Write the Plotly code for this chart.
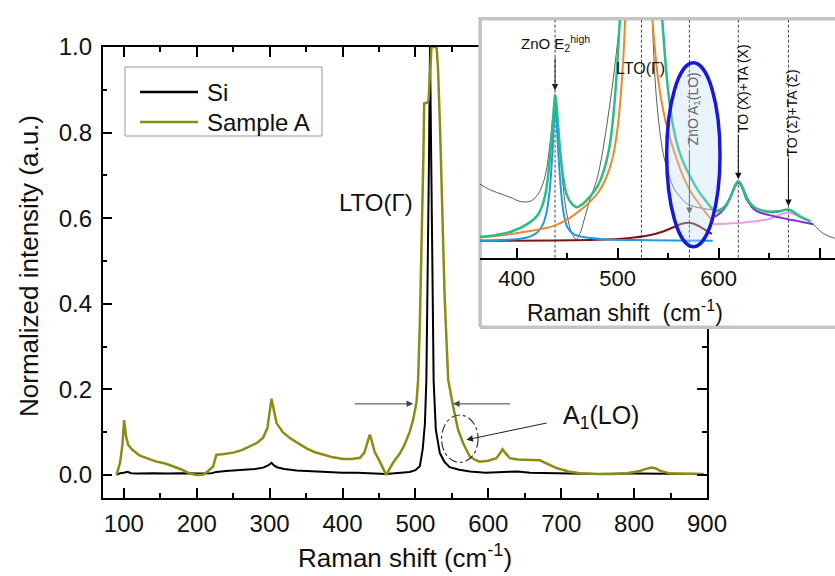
import plotly.graph_objects as go

W, H = 835, 576
FONT = "Liberation Sans, Arial, sans-serif"

# ---------------- main spectra ----------------
si_x = [90, 95, 100, 105, 110, 120, 140, 160, 180, 200, 220, 227, 240, 260, 280, 291, 298, 302.6, 306, 310,
        320, 337, 360, 380, 400, 420, 440, 460, 480, 492, 500, 506, 510, 513, 515, 517, 518.5, 520, 521.5,
        523, 525, 528, 533.5, 540, 547, 560, 575, 596, 620, 640, 657, 680, 700, 750, 800, 850, 895]
si_y = [0.0, 0.004, 0.005, 0.007, 0.004, 0.003, 0.004, 0.003, 0.004, 0.003, 0.004, 0.007, 0.009, 0.011,
        0.014, 0.017, 0.022, 0.028, 0.022, 0.018, 0.014, 0.010, 0.008, 0.006, 0.005, 0.005, 0.004, 0.002,
        0.005, 0.007, 0.011, 0.020, 0.060, 0.120, 0.220, 0.450, 0.720, 1.000, 0.720, 0.420, 0.220, 0.105,
        0.051, 0.030, 0.018, 0.012, 0.008, 0.005, 0.007, 0.008, 0.005, 0.004, 0.003, 0.002, 0.003, 0.002,
        0.002]

sa_x = [90, 95, 98, 100.4, 103, 106, 112, 122, 135, 145, 158, 168, 180, 190.5, 200, 209, 215, 222.5, 227,
        235, 250, 262, 273, 283, 291, 297, 302.6, 306, 309.5, 318, 327.7, 340, 350.6, 362, 373, 387, 401,
        412, 424, 430, 434, 437.4, 440, 444, 450, 455, 460, 465, 470, 478.6, 485, 492, 496.8, 501.5, 503.7,
        506, 509, 511, 512, 516, 518, 520, 522, 529, 531, 534, 537, 540, 543, 545, 551.7, 558.6, 565.5,
        574.6, 582, 588, 600, 611, 616, 619.5, 623, 629.5, 640, 647.7, 660, 670.6, 680, 693.5, 710, 725.5,
        750, 771, 790, 808, 816, 824, 830, 835, 850, 870, 895]
sa_y = [0.0, 0.03, 0.07, 0.128, 0.09, 0.07, 0.058, 0.045, 0.037, 0.031, 0.026, 0.02, 0.012, 0.003, 0.0,
        0.001, 0.008, 0.02, 0.047, 0.048, 0.052, 0.058, 0.066, 0.075, 0.087, 0.11, 0.178, 0.15, 0.121, 0.1,
        0.086, 0.073, 0.062, 0.053, 0.047, 0.041, 0.037, 0.037, 0.04, 0.052, 0.075, 0.094, 0.08, 0.054,
        0.035, 0.018, 0.0, 0.016, 0.03, 0.05, 0.07, 0.1, 0.128, 0.17, 0.222, 0.35, 0.55, 0.75, 0.868, 0.87,
        0.875, 0.95, 1.0, 1.0, 0.95, 0.8, 0.6, 0.42, 0.3, 0.222, 0.16, 0.105, 0.074, 0.043, 0.035, 0.031,
        0.033, 0.039, 0.05, 0.06, 0.052, 0.039, 0.036, 0.035, 0.035, 0.034, 0.027, 0.016, 0.008, 0.004,
        0.002, 0.002, 0.004, 0.009, 0.014, 0.017, 0.015, 0.01, 0.003, 0.002, 0.002]

main_xticks = [100, 200, 300, 400, 500, 600, 700, 800, 900]
main_yticks = [0.0, 0.2, 0.4, 0.6, 0.8, 1.0]

# ---------------- inset (fit) ----------------
ins_data_x = [363.5, 373.4, 386.6, 396, 403.1, 413, 419.6, 425, 429, 433, 436, 438, 440, 443, 446, 449.5,
              454, 458.8, 462.7, 467.6, 473, 479.2, 484, 489, 494, 499, 504, 512, 520, 528, 533.6, 538.5, 545,
              550, 555, 561, 568.2, 576, 584.7, 591, 597.9, 604, 610, 614.4, 619.4, 623, 627.6, 633, 640.8,
              650, 660, 668.8, 676, 683.7, 693.6, 703.5, 715]
ins_data_y = [0.31, 0.286, 0.265, 0.25, 0.237, 0.237, 0.258, 0.30, 0.36, 0.48, 0.60, 0.663, 0.6, 0.453, 0.3,
              0.187, 0.11, 0.077, 0.102, 0.172, 0.25, 0.326, 0.42, 0.551, 0.70, 0.874, 1.084, 2.0, 5.0, 2.0,
              1.08, 0.663, 0.439, 0.36, 0.298, 0.26, 0.228, 0.215, 0.207, 0.203, 0.2, 0.212, 0.245, 0.28,
              0.316, 0.29, 0.24, 0.215, 0.2, 0.196, 0.198, 0.2, 0.185, 0.168, 0.14, 0.102, 0.081]

fit_total_x = [363.5, 380, 395, 410, 420, 425, 429, 432, 435, 437, 438, 439, 441, 443, 446, 450, 455, 459.4,
               465, 472.6, 480, 485.8, 492, 497, 502, 510, 520, 530, 540, 545, 550, 555, 560, 565, 572, 580,
               588, 594, 599, 604, 610, 614, 617, 619.4, 622, 625, 630, 636, 642, 650, 658, 664, 668.8, 673,
               680, 686, 690.9]
fit_total_y = [0.088, 0.096, 0.11, 0.14, 0.175, 0.215, 0.28, 0.38, 0.53, 0.64, 0.684, 0.66, 0.56, 0.45, 0.34,
               0.26, 0.225, 0.212, 0.225, 0.257, 0.3, 0.36, 0.47, 0.66, 0.99, 1.6, 3.0, 2.4, 1.3, 0.95, 0.7,
               0.55, 0.46, 0.4, 0.34, 0.28, 0.235, 0.205, 0.194, 0.205, 0.24, 0.28, 0.31, 0.322, 0.31, 0.28,
               0.235, 0.21, 0.2, 0.192, 0.193, 0.2, 0.203, 0.196, 0.175, 0.162, 0.153]

fit_e2_x = [363.5, 390, 410, 420, 426, 430, 433, 435.5, 437, 438, 439, 441, 443, 446, 450, 456, 465, 485,
            520, 594]
fit_e2_y = [0.0715, 0.075, 0.085, 0.105, 0.14, 0.2, 0.3, 0.45, 0.58, 0.66, 0.6, 0.46, 0.33, 0.2, 0.13, 0.1,
            0.088, 0.078, 0.074, 0.0715]

fit_lto_x = [363.5, 390, 410, 436, 450, 460, 470, 480, 488, 495, 500, 505, 510, 520, 530, 540, 546, 552,
             558, 565, 572, 580, 587, 594]
fit_lto_y = [0.085, 0.097, 0.11, 0.133, 0.16, 0.19, 0.225, 0.27, 0.33, 0.42, 0.55, 0.8, 1.3, 2.9, 1.3, 0.75,
             0.6, 0.5, 0.42, 0.34, 0.28, 0.23, 0.19, 0.155]

fit_a1_x = [363.5, 480, 510, 530, 545, 555, 562, 567, 571, 576, 582, 588, 593.3]
fit_a1_y = [0.0715, 0.075, 0.082, 0.093, 0.11, 0.128, 0.141, 0.146, 0.147, 0.142, 0.129, 0.113, 0.1]

fit_tox_x = [596, 602, 607.8, 612, 616, 619.4, 623, 627, 632.5, 638, 644, 652, 660.6, 668, 677, 685, 693.6]
fit_tox_y = [0.172, 0.19, 0.221, 0.26, 0.3, 0.315, 0.3, 0.26, 0.214, 0.195, 0.186, 0.177, 0.169, 0.162,
             0.155, 0.148, 0.141]

fit_tos_x = [594.6, 610, 625, 640, 650, 657.2, 663, 668.8, 674, 678.7, 684, 690.2]
fit_tos_y = [0.141, 0.144, 0.148, 0.155, 0.163, 0.175, 0.185, 0.189, 0.184, 0.175, 0.165, 0.155]

peak_pos = [438, 523.5, 571, 619.4, 669]
inset_xticks = [400, 500, 600, 700]

OLIVE = "#8c8c14"

fig = go.Figure()

# main traces
fig.add_trace(go.Scatter(x=si_x, y=si_y, mode="lines", line=dict(color="black", width=2),
                         name="Si", xaxis="x", yaxis="y", showlegend=False))
fig.add_trace(go.Scatter(x=sa_x, y=sa_y, mode="lines", line=dict(color=OLIVE, width=2.5),
                         name="Sample A", xaxis="x", yaxis="y", showlegend=False))

# inset box (white card with gray border) on its own subplot, drawn above the main plot
fig.add_trace(go.Scatter(x=[0, 1.2, 1.2, 0, 0], y=[0, 0, 1, 1, 0], mode="lines", fill="toself",
                         fillcolor="white", line=dict(color="#c4c4c4", width=3.5),
                         xaxis="x2", yaxis="y2", showlegend=False, hoverinfo="skip"))

# inset: dashed reference lines
for p in peak_pos:
    fig.add_trace(go.Scatter(x=[p, p], y=[0, 1.2], mode="lines",
                             line=dict(color="#444", width=1, dash="3px,2px"),
                             xaxis="x3", yaxis="y3", showlegend=False, hoverinfo="skip"))

fig.add_trace(go.Scatter(x=ins_data_x, y=ins_data_y, mode="lines", line=dict(color="#333", width=0.8),
                         line_shape="spline", xaxis="x3", yaxis="y3", showlegend=False))
fig.add_trace(go.Scatter(x=fit_a1_x, y=fit_a1_y, mode="lines", line=dict(color="#7a1616", width=2),
                         line_shape="spline", xaxis="x3", yaxis="y3", showlegend=False))
fig.add_trace(go.Scatter(x=fit_e2_x, y=fit_e2_y, mode="lines", line=dict(color="#1e9be6", width=2),
                         line_shape="spline", xaxis="x3", yaxis="y3", showlegend=False))
fig.add_trace(go.Scatter(x=fit_lto_x, y=fit_lto_y, mode="lines", line=dict(color="#f0862a", width=2),
                         line_shape="spline", xaxis="x3", yaxis="y3", showlegend=False))
fig.add_trace(go.Scatter(x=fit_tos_x, y=fit_tos_y, mode="lines", line=dict(color="#e59fe9", width=2),
                         line_shape="spline", xaxis="x3", yaxis="y3", showlegend=False))
fig.add_trace(go.Scatter(x=fit_tox_x, y=fit_tox_y, mode="lines", line=dict(color="#7f2fd8", width=2),
                         line_shape="spline", xaxis="x3", yaxis="y3", showlegend=False))
fig.add_trace(go.Scatter(x=fit_total_x, y=fit_total_y, mode="lines", line=dict(color="#2dbb86", width=2.5),
                         line_shape="spline", xaxis="x3", yaxis="y3", showlegend=False))

def px_x(p):
    return p / W

def px_y(p):
    return (H - p) / H

axis_common = dict(showgrid=False, zeroline=False, showline=True, linecolor="black", linewidth=1.5,
                   ticks="inside", tickcolor="black", tickwidth=1.5, ticklen=10, automargin=False)

fig.update_layout(
    width=W, height=H, margin=dict(l=0, r=0, t=0, b=0),
    paper_bgcolor="white", plot_bgcolor="rgba(0,0,0,0)", showlegend=False,
    font=dict(family=FONT, color="#111"),
    xaxis=dict(domain=[px_x(102.7), px_x(707)], range=[71, 900], tickvals=main_xticks, mirror="ticks",
               minor=dict(dtick=50, tick0=0, ticks="inside", ticklen=5, tickwidth=1.5, tickcolor="black"),
               ticklabelstandoff=3, anchor="y", tickfont=dict(family=FONT, size=24, color="#111"),
               **axis_common),
    yaxis=dict(domain=[px_y(498), px_y(47)], range=[-0.054, 1.0], tickvals=main_yticks, tickformat=".1f",
               mirror="ticks",
               minor=dict(dtick=0.1, tick0=0, ticks="inside", ticklen=5, tickwidth=1.5, tickcolor="black"),
               ticklabelstandoff=4, anchor="x", tickfont=dict(family=FONT, size=24, color="#111"),
               **axis_common),
    xaxis2=dict(domain=[px_x(478), 1.0], range=[-0.006, 1.0], visible=False, anchor="y2", fixedrange=True),
    yaxis2=dict(domain=[px_y(329), px_y(17)], range=[-0.006, 1.006], visible=False, anchor="x2",
                fixedrange=True),
    xaxis3=dict(domain=[px_x(480), 1.0], range=[363.7, 715.1], tickvals=inset_xticks, mirror=False,
                minor=dict(dtick=50, tick0=0, ticks="inside", ticklen=5, tickwidth=1.5, tickcolor="black"),
                anchor="y3", tickfont=dict(family=FONT, size=22, color="#111"), **axis_common),
    yaxis3=dict(domain=[px_y(257.7), px_y(20)], range=[0, 1], visible=False, anchor="x3"),
)

annotations = []

def text_ann(text, x, y, size, xref="paper", yref="paper", angle=0, color="#111", xanchor="center"):
    return dict(text=text, x=x, y=y, xref=xref, yref=yref, textangle=angle, showarrow=False,
                xanchor=xanchor, yanchor="middle", font=dict(size=size, family=FONT, color=color))

def arrow_ann(hx, hy, tx, ty, xref, yref, color="#222"):
    return dict(text="", x=hx, y=hy, ax=tx, ay=ty, xref=xref, yref=yref, axref=xref, ayref=yref,
                showarrow=True, arrowhead=2, arrowsize=1.3, arrowwidth=1, arrowcolor=color)

# axis titles
annotations.append(text_ann("Normalized intensity (a.u.)", px_x(29), px_y(266), 26, angle=-90))
annotations.append(text_ann("Raman shift (cm<sup>-1</sup>)", px_x(405), px_y(556), 26))
annotations.append(text_ann("Raman shift  (cm<sup>-1</sup>)", px_x(625), px_y(311), 23))

# main annotations
annotations.append(text_ann("LTO(\u0393)", 445.7, 0.636, 24, xref="x", yref="y"))
annotations.append(text_ann("A<sub>1</sub>(LO)", 754, 0.135, 25, xref="x", yref="y"))
annotations.append(arrow_ann(570, 0.082, 682, 0.122, "x", "y", "#222"))
annotations.append(arrow_ann(496.8, 0.166, 414.5, 0.166, "x", "y", "#444"))
annotations.append(arrow_ann(551.7, 0.166, 631.8, 0.166, "x", "y", "#444"))

# inset annotations
annotations.append(text_ann("ZnO E<sub>2</sub><sup>high</sup>", 438, 0.9, 15, xref="x3", yref="y3"))
annotations.append(text_ann("LTO(\u0393)", 522.1, 0.797, 16, xref="x3", yref="y3"))
annotations.append(text_ann("ZnO A<sub>1</sub>(LO)", 575.5, 0.628, 14, xref="x3", yref="y3", angle=-90,
                            color="#666"))
annotations.append(text_ann("TO (X)+TA (X)", 623.8, 0.713, 14, xref="x3", yref="y3", angle=-90))
annotations.append(text_ann("TO (\u03a3)+TA (\u03a3)", 672.3, 0.61, 14, xref="x3", yref="y3", angle=-90))
for (hx, hy, ty, col) in [(438, 0.703, 0.846, "#222"), (571, 0.184, 0.453, "#777"),
                          (619.4, 0.33, 0.523, "#111"), (669, 0.217, 0.425, "#111")]:
    annotations.append(arrow_ann(hx, hy, hx, ty, "x3", "y3", col))

# legend (drawn manually to match the boxed style)
leg_items = [("Si", "black", 92), ("Sample A", OLIVE, 122)]
for name, col, yy in leg_items:
    annotations.append(text_ann(name, px_x(205), px_y(yy), 24, xanchor="left"))

shapes = []
shapes.append(dict(type="rect", xref="paper", yref="paper", x0=px_x(125), x1=px_x(322), y0=px_y(136),
                   y1=px_y(67), line=dict(color="#999", width=1), fillcolor="white", layer="above"))
for name, col, yy in leg_items:
    shapes.append(dict(type="line", xref="paper", yref="paper", x0=px_x(140), x1=px_x(198), y0=px_y(yy),
                       y1=px_y(yy), line=dict(color=col, width=2.5), layer="above"))
# dashed circle around A1(LO) shoulder
shapes.append(dict(type="circle", xref="x", yref="y", x0=535.8, x1=586, y0=0.029, y1=0.14,
                   line=dict(color="#333", width=1.2, dash="dashdot"), layer="above"))
# blue ellipse in inset
shapes.append(dict(type="circle", xref="x3", yref="y3", x0=548.5, x1=601.3, y0=0.046, y1=0.82,
                   line=dict(color="#1818d8", width=3.5), fillcolor="rgba(190,220,240,0.35)", layer="above"))

fig.update_layout(annotations=annotations, shapes=shapes)

fig.write_html("out.html")
